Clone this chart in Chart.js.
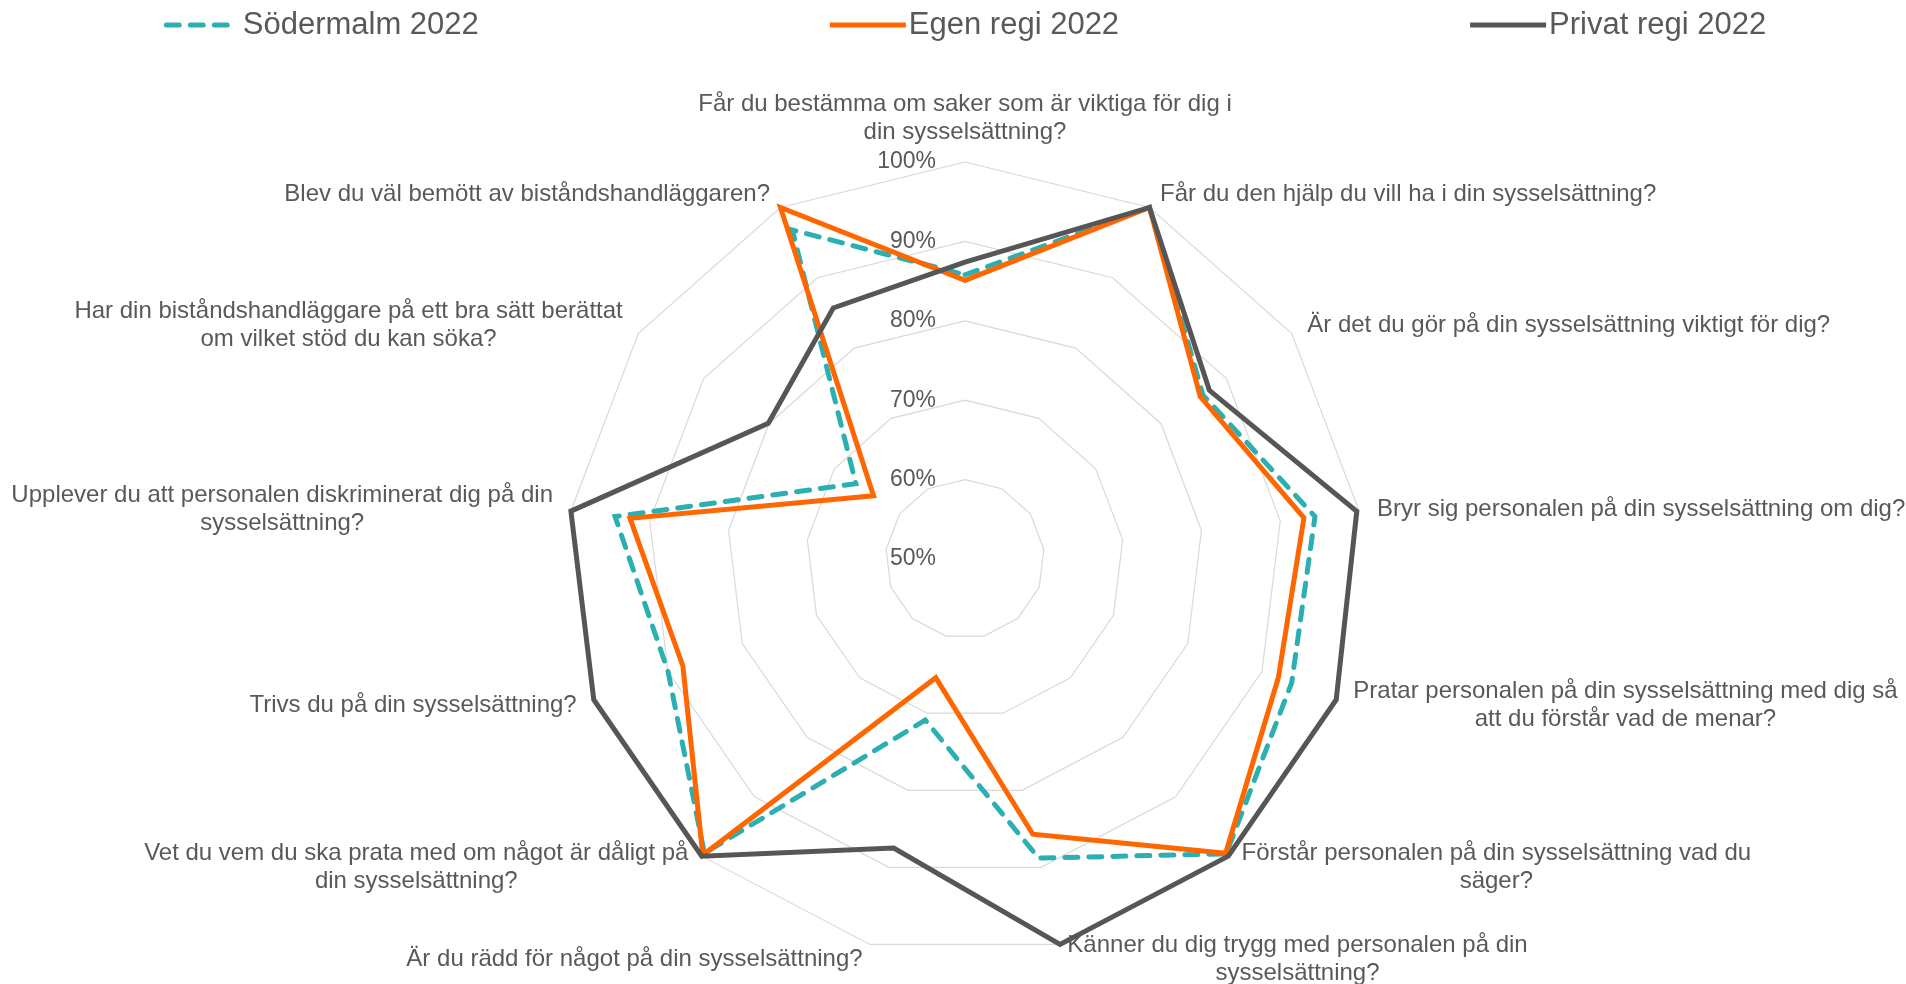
<!DOCTYPE html>
<html lang="sv">
<head>
<meta charset="utf-8">
<title>Södermalm 2022 – radar</title>
<script src="https://cdn.jsdelivr.net/npm/chart.js@4.4.1/dist/chart.umd.min.js"></script>
<style>
  html, body { margin: 0; padding: 0; background: #fff; }
  #wrap { width: 1906px; height: 984px; position: relative; }
</style>
</head>
<body>
<div id="wrap"><canvas id="radar"></canvas></div>
<script>
// categories (one array of lines per question, wrapped like the original)
const questions = [
  ['Får du bestämma om saker som är viktiga för dig i', 'din sysselsättning?'],
  ['Får du den hjälp du vill ha i din sysselsättning?'],
  ['Är det du gör på din sysselsättning viktigt för dig?'],
  ['Bryr sig personalen på din sysselsättning om dig?'],
  ['Pratar personalen på din sysselsättning med dig så', 'att du förstår vad de menar?'],
  ['Förstår personalen på din sysselsättning vad du', 'säger?'],
  ['Känner du dig trygg med personalen på din', 'sysselsättning?'],
  ['Är du rädd för något på din sysselsättning?'],
  ['Vet du vem du ska prata med om något är dåligt på', 'din sysselsättning?'],
  ['Trivs du på din sysselsättning?'],
  ['Upplever du att personalen diskriminerat dig på din', 'sysselsättning?'],
  ['Har din biståndshandläggare på ett bra sätt berättat', 'om vilket stöd du kan söka?'],
  ['Blev du väl bemött av biståndshandläggaren?']
];

// series values (share, 0-1)
const sodermalm  = [0.858, 1.0, 0.864, 0.944, 0.940, 0.996, 0.888, 0.709, 0.995, 0.900, 0.944, 0.667, 0.968];
const egenRegi   = [0.851, 1.0, 0.860, 0.930, 0.922, 0.995, 0.857, 0.654, 0.998, 0.880, 0.925, 0.640, 1.0];
const privatRegi = [0.874, 1.0, 0.874, 0.997, 1.0,   1.0,   1.0,   0.875, 1.0,   1.0,   1.0,   0.801, 0.857];

const seriesNames = ['Södermalm 2022', 'Egen regi 2022', 'Privat regi 2022'];

// radial axis
const tickValues = [0.5, 0.6, 0.7, 0.8, 0.9, 1.0];
const tickLabels = ['50%', '60%', '70%', '80%', '90%', '100%'];

const FONT = '"Liberation Sans", Arial, sans-serif';
const TEXT = '#595959';

// axis tick labels, placed left of the top spoke
const tickLabelPlugin = {
  id: 'tickLabels',
  beforeDatasetsDraw(chart) {
    const scale = chart.scales.r;
    const ctx = chart.ctx;
    ctx.save();
    ctx.font = '23px ' + FONT;
    ctx.fillStyle = TEXT;
    ctx.textAlign = 'right';
    ctx.textBaseline = 'middle';
    tickValues.forEach((v, k) => {
      const y = scale.yCenter - scale.getDistanceFromCenterForValue(v);
      ctx.fillText(tickLabels[k], scale.xCenter - 29, y);
    });
    ctx.restore();
  }
};

// question labels, lines centred inside their block like Excel does
const questionLabelPlugin = {
  id: 'questionLabels',
  afterDraw(chart) {
    const scale = chart.scales.r;
    const ctx = chart.ctx;
    const lh = 28;
    ctx.save();
    ctx.font = '24px ' + FONT;
    ctx.fillStyle = TEXT;
    ctx.textBaseline = 'middle';
    ctx.textAlign = 'center';
    questions.forEach((lines, i) => {
      const a = scale.getIndexAngle(i);
      const s = Math.sin(a), c = Math.cos(a);
      const p = scale.getPointPosition(i, scale.drawingArea);
      const h = lines.length * lh;
      const w = Math.max(...lines.map(t => ctx.measureText(t).width));
      let cx, cy;
      if (Math.abs(s) < 0.05) {
        cx = p.x;
        cy = p.y - 16 - h / 2;
      } else {
        const off = 4 + 14 * Math.abs(s);
        cx = s > 0 ? p.x + off + w / 2 : p.x - off - w / 2;
        cy = p.y - 15 * c;
      }
      lines.forEach((t, k) => {
        ctx.fillText(t, cx, cy - h / 2 + lh / 2 + k * lh);
      });
    });
    ctx.restore();
  }
};

// legend row across the top
const legendPlugin = {
  id: 'topLegend',
  afterDraw(chart) {
    const scale = chart.scales.r;
    const ctx = chart.ctx;
    const markLen = 76, textGap = 3, gap = 351, y = 25;
    ctx.save();
    ctx.font = '31px ' + FONT;
    ctx.textBaseline = 'middle';
    ctx.textAlign = 'left';
    const items = chart.data.datasets.map(ds => ({
      ds, w: markLen + textGap + ctx.measureText(ds.label).width
    }));
    const total = items.reduce((sum, it) => sum + it.w, 0) + gap * (items.length - 1);
    let x = scale.xCenter - total / 2;
    items.forEach(({ds, w}) => {
      ctx.save();
      ctx.strokeStyle = ds.borderColor;
      ctx.lineWidth = ds.borderWidth;
      ctx.setLineDash(ds.borderDash || []);
      ctx.lineCap = ds.borderCapStyle || 'butt';
      ctx.beginPath();
      if (ds.borderDash) {
        // three round dashes
        const half = ds.borderWidth / 2;
        const len = ds.borderDash[0] * 3 + ds.borderDash[1] * 2;
        ctx.moveTo(x + half, y);
        ctx.lineTo(x + half + len, y);
      } else {
        ctx.moveTo(x, y);
        ctx.lineTo(x + markLen, y);
      }
      ctx.stroke();
      ctx.restore();
      ctx.fillStyle = TEXT;
      ctx.fillText(ds.label, x + markLen + textGap, y);
      x += w + gap;
    });
    ctx.restore();
  }
};

const lineDefaults = {
  fill: false,
  backgroundColor: 'transparent',
  borderWidth: 5,
  pointRadius: 0,
  pointHoverRadius: 0,
  tension: 0,
  clip: false
};

new Chart(document.getElementById('radar'), {
  type: 'radar',
  data: {
    labels: questions,
    datasets: [
      Object.assign({}, lineDefaults, {
        label: seriesNames[0], data: sodermalm, borderColor: '#2BAFB1',
        borderDash: [13, 11], borderCapStyle: 'round', order: 2
      }),
      Object.assign({}, lineDefaults, {
        label: seriesNames[1], data: egenRegi, borderColor: '#FF6600', order: 1
      }),
      Object.assign({}, lineDefaults, {
        label: seriesNames[2], data: privatRegi, borderColor: '#565656', order: 0
      })
    ]
  },
  options: {
    responsive: true,
    maintainAspectRatio: false,
    animation: false,
    layout: { padding: { top: 162, bottom: 28, left: 24, right: 0 } },
    plugins: {
      legend: { display: false },
      tooltip: { enabled: false }
    },
    scales: {
      r: {
        min: 0.5,
        max: 1,
        ticks: { stepSize: 0.1, display: false },
        grid: { color: '#D9D9D9', lineWidth: 1.2 },
        angleLines: { display: false },
        pointLabels: { display: false }
      }
    }
  },
  plugins: [tickLabelPlugin, questionLabelPlugin, legendPlugin]
});
</script>
</body>
</html>
